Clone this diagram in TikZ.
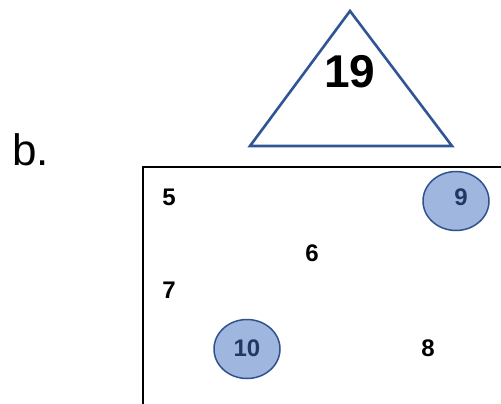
\documentclass[tikz,border=0pt]{standalone}
\usepackage{fontspec}
\setmainfont{Liberation Sans}
\usetikzlibrary{shapes.geometric}
\definecolor{triblue}{HTML}{2F5597}
\definecolor{ellfill}{HTML}{9FB6DF}
\definecolor{elldraw}{HTML}{2F528F}
\definecolor{elltext}{HTML}{203864}
\begin{document}
\begin{tikzpicture}[x=1pt,y=-1pt,
  num/.style={font=\fontsize{24}{24}\selectfont\bfseries, inner sep=0pt},
  blob/.style={ellipse, draw=elldraw, fill=ellfill, line width=1.5pt, minimum width=66pt, minimum height=59pt, inner sep=0pt},
  blobnum/.style={font=\fontsize{24}{24}\selectfont\bfseries, text=elltext, inner sep=0pt}]
\useasboundingbox (0,0) rectangle (501,404);
% triangle
\coordinate (apex) at (350,11);
\coordinate (bl) at (250,146);
\coordinate (br) at (452,146);
\draw[triblue, line width=2.6pt, line join=miter] (apex) -- (bl) -- (br) -- cycle;
\node[font=\fontsize{46}{46}\selectfont\bfseries, inner sep=0pt] (t19) at (350,72) {19};
% label b.
\node[font=\fontsize{44}{44}\selectfont, inner sep=0pt, anchor=base west] (lb) at (12,165) {b.};
% box (only top and left edges visible)
\coordinate (tl) at (143,167);
\coordinate (tr) at (501,167);
\coordinate (blc) at (143,404);
\draw[black, line width=1.4pt] (tr) -- (tl) -- (blc);
% ellipses
\node[blob] (e9) at (456,201) {};
\node[blobnum] (n9) at (461,197) {9};
\node[blob] (e10) at (247,349) {};
\node[blobnum] (n10) at (247,348) {10};
% numbers
\node[num] (n5) at (169,197) {5};
\node[num] (n6) at (312,253) {6};
\node[num] (n7) at (169,290) {7};
\node[num] (n8) at (428,348) {8};
\end{tikzpicture}
\end{document}
